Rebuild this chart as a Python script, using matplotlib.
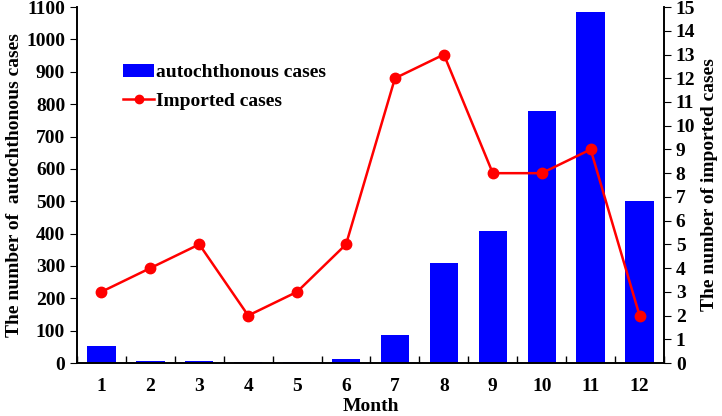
import numpy as np
import matplotlib.pyplot as plt
from matplotlib.ticker import FixedLocator

plt.rcParams['font.family'] = 'Liberation Serif'
plt.rcParams['font.weight'] = 'bold'

months = [1, 2, 3, 4, 5, 6, 7, 8, 9, 10, 11, 12]
autochthonous = [54, 5, 5, 2, 2, 12, 87, 309, 408, 778, 1085, 500]
imported = [3, 4, 5, 2, 3, 5, 12, 13, 8, 8, 9, 2]

fs = 14

fig = plt.figure(figsize=(7.22, 4.16), dpi=100)
ax = fig.add_axes([0.1066, 0.1274, 0.8131, 0.8556])
ax2 = ax.twinx()

x = np.arange(len(months))
bars = ax.bar(x, autochthonous, width=0.58, color='#0000ff', zorder=2)
line, = ax2.plot(x, imported, color='#ff0000', lw=1.8, marker='o', ms=7.5, zorder=3)

ax.set_xlim(-0.5, 11.5)
ax.set_ylim(0, 1100)
ax.set_yticks(np.arange(0, 1101, 100))
ax2.set_ylim(0, 15)
ax2.set_yticks(np.arange(0, 16, 1))

ax.set_xticks(x)
ax.set_xticklabels([str(m) for m in months])
ax.xaxis.set_minor_locator(FixedLocator(np.arange(-0.5, 12, 1)))
ax.tick_params(axis='x', which='major', length=0, pad=11, labelsize=fs)
ax.tick_params(axis='x', which='minor', direction='in', length=5, width=1)
ax.tick_params(axis='y', direction='out', length=5, labelsize=fs)
ax2.tick_params(axis='y', direction='out', length=5, labelsize=fs)

for a in (ax, ax2):
    a.spines['top'].set_visible(False)
    for s in ('left', 'right', 'bottom'):
        a.spines[s].set_linewidth(1.2)

ax.set_xlabel('Month', fontsize=fs, fontweight='bold', labelpad=2)
ax.set_ylabel('The number of  autochthonous cases', fontsize=fs, fontweight='bold', labelpad=2)
ax2.set_ylabel('The number of imported cases', fontsize=fs, fontweight='bold', labelpad=4)

legend_handle = plt.Line2D([], [], color='#ff0000', lw=1.8, marker='o', ms=6)
ax.legend([bars, legend_handle], ['autochthonous cases', 'Imported cases'],
          loc='upper left', bbox_to_anchor=(0.049, 0.89), frameon=False,
          prop={'family': 'Liberation Serif', 'weight': 'bold', 'size': fs},
          handlelength=1.6, handletextpad=0.1, labelspacing=0.55)

fig.savefig('out.png', dpi=100)
